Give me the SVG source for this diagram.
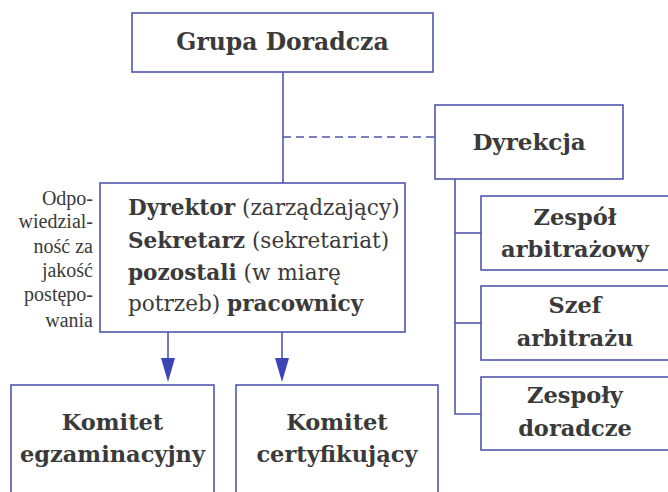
<svg xmlns="http://www.w3.org/2000/svg" width="668" height="492" viewBox="0 0 668 492">
  <style>
    .box { fill: #ffffff; stroke: #5157ad; stroke-width: 1.6; }
    .link { fill: none; stroke: #5157ad; stroke-width: 1.6; }
    .dash { fill: none; stroke: #5157ad; stroke-width: 1.4; stroke-dasharray: 8 5; }
    .head { fill: #3b45b5; }
    text { fill: #3a3a3a; }
  </style>
  <rect width="668" height="492" fill="#ffffff"/>

  <!-- connectors -->
  <g id="connectors">
    <line class="link" x1="283" y1="72" x2="283" y2="183"/>
    <line class="dash" x1="283" y1="137" x2="435" y2="137"/>
    <polyline class="link" points="455,179 455,414 481,414"/>
    <line class="link" x1="455" y1="233" x2="481" y2="233"/>
    <line class="link" x1="455" y1="323" x2="481" y2="323"/>
    <line class="link" x1="168" y1="332" x2="168" y2="358"/>
    <line class="link" x1="282" y1="332" x2="282" y2="358"/>
    <path class="head" d="M161 358 L175 358 L168 382 Z"/>
    <path class="head" d="M275 358 L289 358 L282 382 Z"/>
  </g>

  <!-- boxed units, bold serif titles -->
  <g font-family="'DejaVu Serif', serif" font-weight="bold" font-size="22.5" text-anchor="middle">
    <g id="grupa-doradcza">
      <rect class="box" x="132" y="13" width="301" height="59"/>
      <text x="282.5" y="50" font-size="23.5">Grupa Doradcza</text>
    </g>

    <g id="dyrekcja">
      <rect class="box" x="435" y="105" width="188" height="74"/>
      <text x="529" y="150" font-size="23">Dyrekcja</text>
    </g>

    <g id="zespol-arbitrazowy">
      <rect class="box" x="481" y="196" width="192" height="74"/>
      <text x="575" y="225">Zespół</text>
      <text x="575" y="257">arbitrażowy</text>
    </g>

    <g id="szef-arbitrazu">
      <rect class="box" x="481" y="286" width="192" height="74"/>
      <text x="575" y="313">Szef</text>
      <text x="575" y="346">arbitrażu</text>
    </g>

    <g id="zespoly-doradcze">
      <rect class="box" x="481" y="377" width="192" height="73"/>
      <text x="575" y="403">Zespoły</text>
      <text x="575" y="436">doradcze</text>
    </g>

    <g id="komitet-egzaminacyjny">
      <rect class="box" x="11" y="385" width="203" height="112"/>
      <text x="112.5" y="430">Komitet</text>
      <text x="112.5" y="462">egzaminacyjny</text>
    </g>

    <g id="komitet-certyfikujacy">
      <rect class="box" x="236" y="385" width="202" height="112"/>
      <text x="337" y="430">Komitet</text>
      <text x="337" y="462">certyfikujący</text>
    </g>
  </g>

  <!-- staff box: bold roles, regular remarks -->
  <g id="dyrektor" font-family="'DejaVu Serif', serif" font-size="21.6">
    <rect class="box" x="100" y="183" width="305" height="149"/>
    <text x="128" y="215"><tspan font-weight="bold">Dyrektor</tspan> (zarządzający)</text>
    <text x="128" y="248"><tspan font-weight="bold">Sekretarz</tspan> (sekretariat)</text>
    <text x="128" y="280"><tspan font-weight="bold">pozostali</tspan> (w miarę</text>
    <text x="128" y="311">potrzeb) <tspan font-weight="bold">pracownicy</tspan></text>
  </g>

  <!-- side note, right-aligned against the staff box -->
  <g id="odpowiedzialnosc" font-family="'Liberation Serif', serif" font-size="20" text-anchor="end">
    <text x="93" y="205">Odpo-</text>
    <text x="93" y="228">wiedzial-</text>
    <text x="93" y="253">ność za</text>
    <text x="93" y="277">jakość</text>
    <text x="93" y="301">postępo-</text>
    <text x="93" y="327">wania</text>
  </g>
</svg>
